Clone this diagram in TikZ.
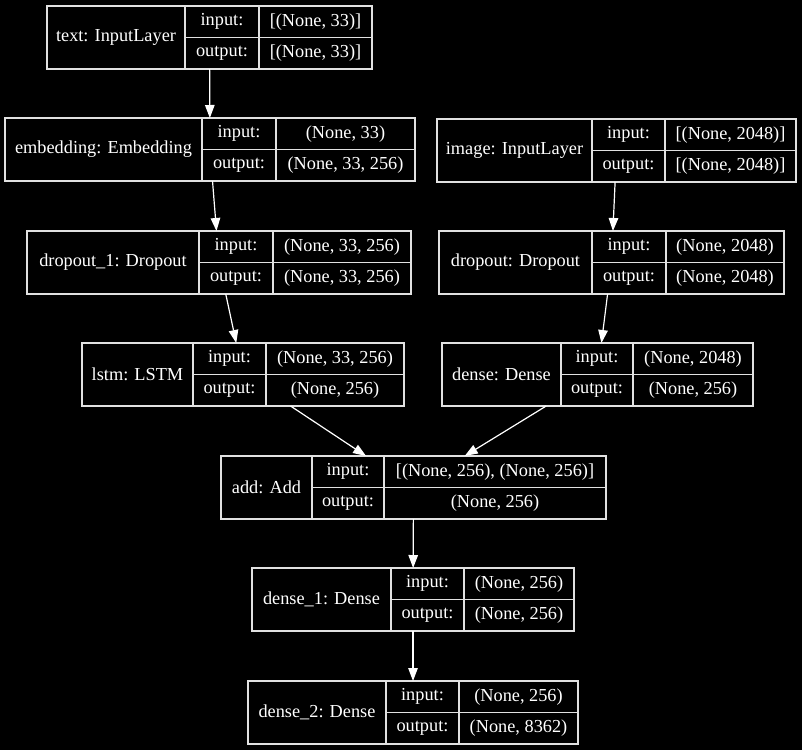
\documentclass[tikz,border=0pt]{standalone}
\usepackage{fontspec}
\setmainfont{Liberation Serif}
\usepackage{tikz}
\usetikzlibrary{arrows.meta}
\definecolor{rule}{RGB}{225,225,225}

% #1 id, #2 left, #3 name split, #4 label split, #5 right, #6 top,
% #7 layer name, #8 input shape, #9 output shape
\newcommand{\layer}[9]{%
  \node[layerbox, minimum width={(#5-#2)*1pt}]
       (#1) at ({(#2+#5)/2},{#6+31.5}) {};
  \draw[rule] ({#3},{#6}) -- ++(0,63)
              ({#4},{#6}) -- ++(0,63)
              ({#3},{#6+31.5}) -- ({#5},{#6+31.5});
  \node[lbl] (#1-name) at ({(#2+#3)/2},{#6+31.5}) {#7};
  \node[lbl] (#1-in)   at ({(#3+#4)/2},{#6+15.75}) {input:};
  \node[lbl] (#1-out)  at ({(#3+#4)/2},{#6+47.25}) {output:};
  \node[lbl] (#1-ishape) at ({(#4+#5)/2},{#6+15.75}) {#8};
  \node[lbl] (#1-oshape) at ({(#4+#5)/2},{#6+47.25}) {#9};
}

\begin{document}
\begin{tikzpicture}[x=1pt,y=-1pt,>={Triangle[length=13pt,width=9.5pt]},
                    semithick]
  \tikzstyle{layerbox}=[rectangle,draw=rule,line width=1.2pt,inner sep=0pt,
                        outer sep=0pt,minimum height=63pt]
  \tikzstyle{rule}=[draw=rule,line width=1.2pt]
  \tikzstyle{lbl}=[text=white,inner sep=0pt,font=\fontsize{18.3}{21}\selectfont]
  \tikzstyle{flow}=[->,draw=white,line width=1.2pt,color=white]

  \fill[black] (0,0) rectangle (802,750);
  \useasboundingbox (0,0) rectangle (802,750);

  \layer{text}{47}{185}{259}{372}{6}{text: InputLayer}{[(None, 33)]}{[(None, 33)]}
  \layer{embedding}{5}{202}{276}{415}{118}{embedding: Embedding}{(None, 33)}{(None, 33, 256)}
  \layer{image}{437}{592}{665}{796}{119}{image: InputLayer}{[(None, 2048)]}{[(None, 2048)]}
  \layer{dropout1}{27}{199}{273}{411}{231}{dropout\_1: Dropout}{(None, 33, 256)}{(None, 33, 256)}
  \layer{dropout}{439}{592}{666}{784}{231}{dropout: Dropout}{(None, 2048)}{(None, 2048)}
  \layer{lstm}{82}{193}{266}{404}{343}{lstm: LSTM}{(None, 33, 256)}{(None, 256)}
  \layer{dense}{442}{561}{633}{753}{343}{dense: Dense}{(None, 2048)}{(None, 256)}
  \layer{add}{221}{312}{384}{606}{456}{add: Add}{[(None, 256), (None, 256)]}{(None, 256)}
  \layer{dense1}{252}{391}{464}{574}{568}{dense\_1: Dense}{(None, 256)}{(None, 256)}
  \layer{dense2}{248}{386}{459}{578}{681}{dense\_2: Dense}{(None, 256)}{(None, 8362)}

  \path
(text) edge [flow] (embedding)
(embedding) edge [flow] (dropout1)
(dropout1) edge [flow] (lstm)
(image) edge [flow] (dropout)
(dropout) edge [flow] (dense)
(lstm) edge [flow] (add)
(dense) edge [flow] (add)
(add) edge [flow] (dense1)
(dense1) edge [flow] (dense2)
;

\end{tikzpicture}
\end{document}
